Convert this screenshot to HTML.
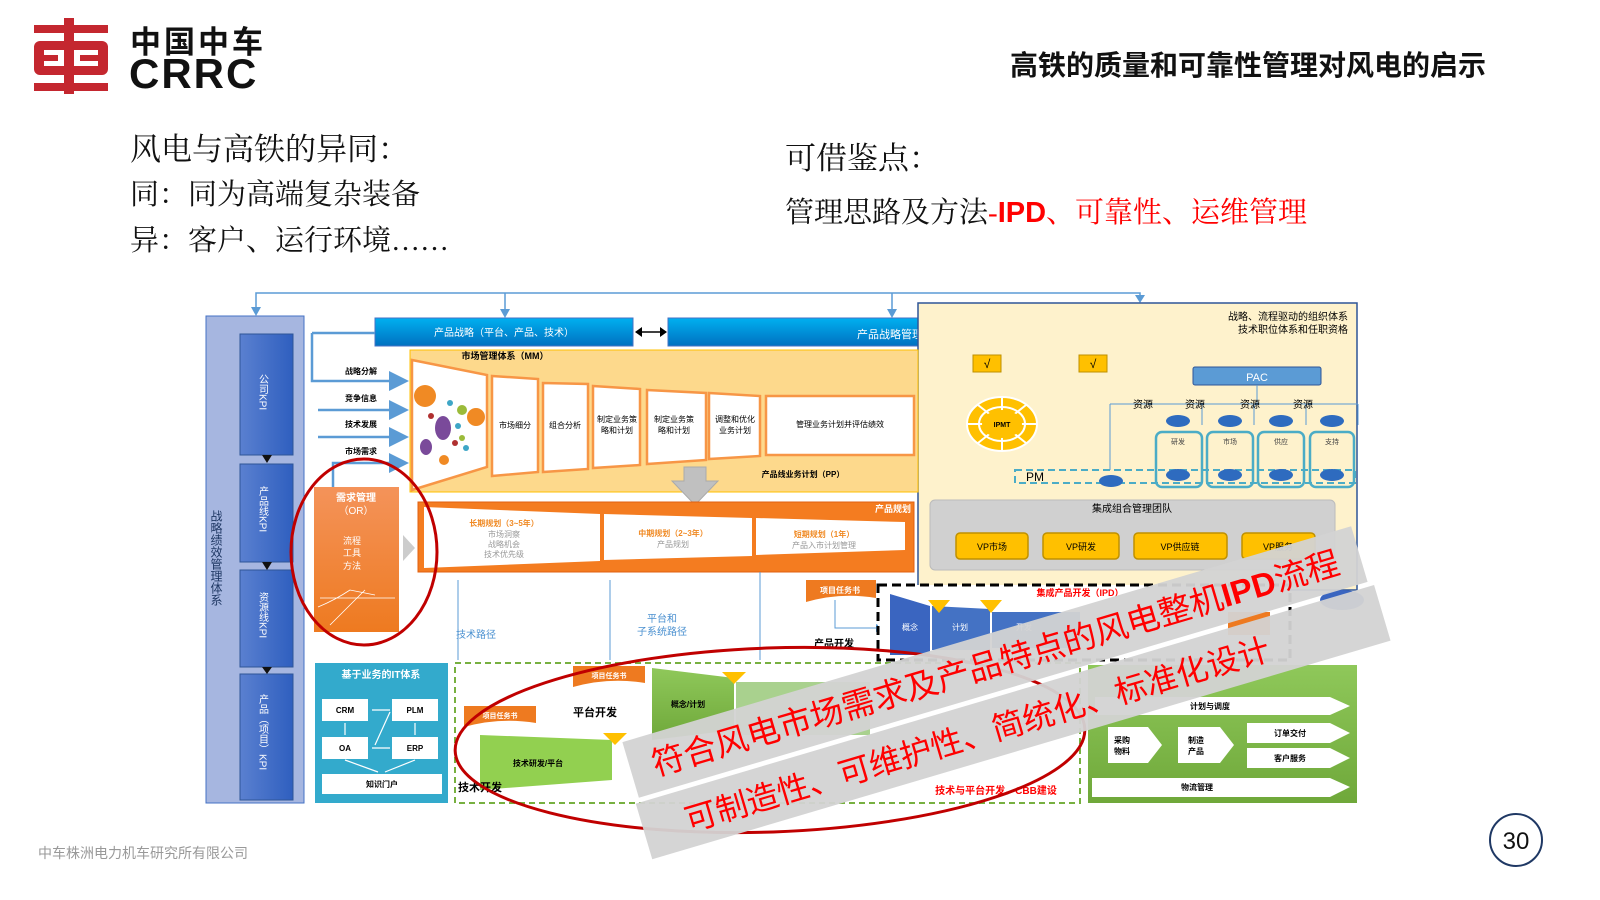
<!DOCTYPE html>
<html><head><meta charset="utf-8"><style>
body{margin:0;width:1600px;height:900px;background:#fff;position:relative;overflow:hidden;font-family:"Liberation Sans","Noto Sans CJK SC",sans-serif}
.t{position:absolute;white-space:nowrap}
.serif{font-family:"Liberation Serif","Noto Serif CJK SC",serif}
</style></head><body>
<!-- logo -->
<svg class="t" style="left:30px;top:15px" width="85" height="82" viewBox="0 0 85 82">
<g fill="#c4272f">
<rect x="34" y="3" width="10" height="76"/>
<rect x="4" y="10" width="74" height="8"/>
<rect x="4" y="68" width="74" height="8"/>
<rect x="4" y="26" width="74" height="34" rx="6"/>
</g>
<rect x="14" y="35" width="54" height="16" fill="#fff"/>
<rect x="34" y="35" width="10" height="16" fill="#c4272f"/>
<rect x="14" y="40" width="14" height="6" fill="#c4272f"/>
<rect x="50" y="40" width="18" height="6" fill="#c4272f"/>
</svg>
<div class="t" style="left:130px;top:17px;font-size:31px;font-weight:bold;letter-spacing:3px;color:#111;font-family:'Noto Sans CJK SC',sans-serif">中国中车</div>
<div class="t" style="left:129px;top:50px;font-size:42px;font-weight:bold;color:#111;letter-spacing:2px">CRRC</div>
<div class="t" style="left:1010px;top:44px;font-size:28px;font-weight:bold;color:#111;font-family:'Noto Sans CJK SC',sans-serif">高铁的质量和可靠性管理对风电的启示</div>

<div class="t serif" style="left:130px;top:124px;font-size:31px;color:#111">风电与高铁的异同：</div>
<div class="t serif" style="left:130px;top:172px;font-size:29px;color:#111">同：同为高端复杂装备</div>
<div class="t serif" style="left:130px;top:218px;font-size:29px;color:#111">异：客户、运行环境……</div>
<div class="t serif" style="left:785px;top:133px;font-size:31px;color:#111">可借鉴点：</div>
<div class="t serif" style="left:785px;top:190px;font-size:29px;color:#111">管理思路及方法<span style="color:#f00">-<b style="font-family:'Liberation Sans',sans-serif">IPD</b>、可靠性、运维管理</span></div>

<svg class="t" style="left:0;top:0" width="1600" height="900" font-family="'Liberation Sans','Noto Sans CJK SC',sans-serif">
<defs>
<linearGradient id="bl" x1="0" y1="0" x2="0" y2="1"><stop offset="0" stop-color="#00b0f0"/><stop offset="1" stop-color="#0070c0"/></linearGradient>
<linearGradient id="kb" x1="0" y1="0" x2="1" y2="0"><stop offset="0" stop-color="#5a80d0"/><stop offset="1" stop-color="#2f5fbf"/></linearGradient>
<linearGradient id="or" x1="0" y1="0" x2="0" y2="1"><stop offset="0" stop-color="#f4935a"/><stop offset="1" stop-color="#ee7a20"/></linearGradient>
<linearGradient id="gr" x1="0" y1="0" x2="0" y2="1"><stop offset="0" stop-color="#8fc85a"/><stop offset="1" stop-color="#6fa83a"/></linearGradient>
<marker id="ar" markerWidth="8" markerHeight="8" refX="6" refY="4" orient="auto"><path d="M0,0 L8,4 L0,8z" fill="#5b9bd5"/></marker>
</defs>
<path d="M256,313 V293 H1140 V300 M505,293 V314 M892,293 V314" stroke="#5b9bd5" stroke-width="1.5" fill="none"/>
<g fill="#5b9bd5"><path d="M251,307 h10 l-5,9z"/><path d="M500,309 h10 l-5,9z"/><path d="M887,309 h10 l-5,9z"/><path d="M1135,295 h10 l-5,8z"/></g>
<rect x="206" y="316" width="98" height="487" fill="#a6b6e0" stroke="#4472c4"/>
<text x="216" y="510" font-size="12" fill="#1f3864" writing-mode="tb">战略绩效管理体系</text>
<rect x="240" y="334" width="53" height="121" fill="url(#kb)" stroke="#2f5597"/>
<rect x="240" y="464" width="53" height="98" fill="url(#kb)" stroke="#2f5597"/>
<rect x="240" y="570" width="53" height="97" fill="url(#kb)" stroke="#2f5597"/>
<rect x="240" y="674" width="53" height="126" fill="url(#kb)" stroke="#2f5597"/>
<g fill="#111"><path d="M262,455 h10 l-5,8z"/><path d="M262,562 h10 l-5,8z"/><path d="M262,667 h10 l-5,7z"/></g>
<g fill="#fff" font-size="10"><text x="262" y="374" writing-mode="tb">公司KPI</text><text x="262" y="486" writing-mode="tb">产品线KPI</text><text x="262" y="592" writing-mode="tb">资源线KPI</text><text x="262" y="694" writing-mode="tb">产品（项目）KPI</text></g>
<rect x="375" y="318" width="258" height="28" fill="url(#bl)" stroke="#4472c4"/>
<text x="504" y="336" font-size="10" fill="#fff" text-anchor="middle">产品战略（平台、产品、技术）</text>
<path d="M641,332 H660" stroke="#000" stroke-width="1.5"/><path d="M635,332 l7,-5 v10z M667,332 l-7,-5 v10z" fill="#000"/>
<rect x="668" y="318" width="445" height="28" fill="url(#bl)" stroke="#4472c4"/>
<text x="890" y="338" font-size="11" fill="#fff" text-anchor="middle">产品战略管理</text>
<rect x="918" y="303" width="439" height="287" fill="#fef2cc" stroke="#2f5597" stroke-width="1.5"/>
<text x="1348" y="320" font-size="10" text-anchor="end">战略、流程驱动的组织体系</text>
<text x="1348" y="333" font-size="10" text-anchor="end">技术职位体系和任职资格</text>
<rect x="973" y="355" width="28" height="17" fill="#ffc000" stroke="#bf9000"/><text x="987" y="368" font-size="12" text-anchor="middle">√</text>
<rect x="1079" y="355" width="28" height="17" fill="#ffc000" stroke="#bf9000"/><text x="1093" y="368" font-size="12" text-anchor="middle">√</text>
<ellipse cx="1002" cy="424" rx="35" ry="27" fill="#ffc000" stroke="#fff" stroke-width="2"/>
<ellipse cx="1002" cy="424" rx="23" ry="17" fill="#ffc000" stroke="#fff" stroke-width="2"/>
<path d="M1002,397 V451 M967,424 H1037 M978,405 L1026,443 M1026,405 L978,443" stroke="#fff" stroke-width="2"/>
<ellipse cx="1002" cy="424" rx="20" ry="14" fill="#ffc000"/>
<text x="1002" y="427" font-size="7" text-anchor="middle" font-weight="bold">IPMT</text>
<rect x="1193" y="367" width="128" height="18" rx="2" fill="#5b9bd5" stroke="#2f5597"/>
<text x="1257" y="381" font-size="11" fill="#fff" text-anchor="middle">PAC</text>
<path d="M1257,385 V404 M1110,404 H1358 M1110,404 V470 M1202,404 V425 M1254,404 V425 M1306,404 V425 M1358,404 V425" stroke="#5b9bd5" fill="none"/>
<g font-size="10"><text x="1133" y="408">资源</text><text x="1185" y="408">资源</text><text x="1240" y="408">资源</text><text x="1293" y="408">资源</text></g>
<rect x="1015" y="470" width="340" height="13" fill="none" stroke="#4bacc6" stroke-width="2" stroke-dasharray="7,4"/>
<text x="1026" y="481" font-size="12">PM</text>
<ellipse cx="1111" cy="481" rx="12" ry="6" fill="#2e6bbf"/>
<g stroke="#4bacc6" stroke-width="2.5" fill="none"><rect x="1156" y="432" width="46" height="55" rx="6"/><rect x="1207" y="432" width="46" height="55" rx="6"/><rect x="1258" y="432" width="46" height="55" rx="6"/><rect x="1310" y="432" width="44" height="55" rx="6"/></g>
<g fill="#2e6bbf"><ellipse cx="1178" cy="421" rx="12" ry="6"/><ellipse cx="1230" cy="421" rx="12" ry="6"/><ellipse cx="1281" cy="421" rx="12" ry="6"/><ellipse cx="1332" cy="421" rx="12" ry="6"/>
<ellipse cx="1178" cy="475" rx="12" ry="6"/><ellipse cx="1230" cy="475" rx="12" ry="6"/><ellipse cx="1281" cy="475" rx="12" ry="6"/><ellipse cx="1332" cy="475" rx="12" ry="6"/></g>
<g font-size="7" fill="#444" text-anchor="middle"><text x="1178" y="444">研发</text><text x="1230" y="444">市场</text><text x="1281" y="444">供应</text><text x="1332" y="444">支持</text></g>
<rect x="930" y="500" width="405" height="70" rx="5" fill="#d0d0d0" stroke="#bbb"/>
<text x="1132" y="512" font-size="10" text-anchor="middle">集成组合管理团队</text>
<g fill="#ffc000" stroke="#bf9000" stroke-width="1.5"><rect x="956" y="533" width="72" height="26" rx="4"/><rect x="1043" y="533" width="76" height="26" rx="4"/><rect x="1134" y="533" width="93" height="26" rx="4"/><rect x="1242" y="533" width="73" height="26" rx="4"/></g>
<g font-size="9" text-anchor="middle"><text x="992" y="550">VP市场</text><text x="1081" y="550">VP研发</text><text x="1180" y="550">VP供应链</text><text x="1278" y="550">VP服务</text></g>
<rect x="410" y="350" width="508" height="142" fill="#fdd98c" stroke="#ffc000"/>
<text x="505" y="359" font-size="9" font-weight="bold" text-anchor="middle">市场管理体系（MM）</text>
<g fill="#fff" stroke="#f79646" stroke-width="2.5">
<path d="M412,360 L487,375 V467 L412,490z"/>
<path d="M492,376 L538,379 V472 L492,476z"/>
<path d="M543,383 L588,384 V469 L543,472z"/>
<path d="M593,386 L640,389 V465 L593,468z"/>
<path d="M647,390 L706,393 V460 L647,464z"/>
<path d="M709,393 L760,396 V456 L709,459z"/>
<rect x="766" y="396" width="148" height="59"/>
</g>
<g fill="#f08a24"><circle cx="425" cy="396" r="11"/><circle cx="476" cy="417" r="9"/><circle cx="444" cy="460" r="5"/></g>
<g fill="#7a4a9a"><ellipse cx="443" cy="428" rx="8" ry="12"/><ellipse cx="426" cy="447" rx="6" ry="8"/></g>
<g fill="#9bbb3a"><circle cx="462" cy="410" r="5"/><circle cx="462" cy="438" r="3"/></g>
<g fill="#3ea6c6"><circle cx="450" cy="403" r="3"/><circle cx="458" cy="426" r="3"/><circle cx="466" cy="448" r="3"/></g>
<g fill="#b03030"><circle cx="431" cy="416" r="3"/><circle cx="455" cy="443" r="3"/></g>
<g font-size="8" text-anchor="middle"><text x="515" y="428">市场细分</text><text x="565" y="428">组合分析</text><text x="617" y="422">制定业务策</text><text x="617" y="433">略和计划</text><text x="674" y="422">制定业务策</text><text x="674" y="433">略和计划</text><text x="735" y="422">调整和优化</text><text x="735" y="433">业务计划</text><text x="840" y="427">管理业务计划并评估绩效</text>
<text x="803" y="477" font-weight="bold">产品线业务计划（PP）</text></g>
<g font-size="8" font-weight="bold" text-anchor="middle"><text x="361" y="374">战略分解</text><text x="361" y="401">竞争信息</text><text x="361" y="427">技术发展</text><text x="361" y="454">市场需求</text></g>
<g stroke="#5b9bd5" stroke-width="2.5" fill="none" marker-end="url(#ar)"><path d="M312,333 H375 M312,333 V381 H404"/><path d="M318,410 H404"/><path d="M318,437 H404"/><path d="M333,487 V463 H404"/></g>
<path d="M684,467 h22 v14 h12 l-23,24 l-23,-24 h12z" fill="#c0c0c0" stroke="#aaa"/>
<rect x="418" y="502" width="496" height="70" fill="#f47c20" stroke="#e06010"/>
<text x="911" y="512" font-size="9" fill="#fff" font-weight="bold" text-anchor="end">产品规划</text>
<g fill="#fff"><path d="M424,507 L600,514 V561 L424,568z"/><path d="M604,514 L752,518 V556 L604,560z"/><path d="M756,518 L905,522 V550 L756,555z"/></g>
<g font-size="8" text-anchor="middle"><text x="504" y="526" fill="#f08a24" font-weight="bold">长期规划（3~5年）</text><text x="504" y="537" fill="#999">市场洞察</text><text x="504" y="547" fill="#999">战略机会</text><text x="504" y="557" fill="#999">技术优先级</text>
<text x="673" y="536" fill="#f08a24" font-weight="bold">中期规划（2~3年）</text><text x="673" y="547" fill="#999">产品规划</text>
<text x="824" y="537" fill="#f08a24" font-weight="bold">短期规划（1年）</text><text x="824" y="548" fill="#999">产品入市计划管理</text></g>
<path d="M403,535 l12,13 l-12,13z" fill="#ccc"/>
<rect x="314" y="487" width="85" height="145" fill="url(#or)"/>
<g fill="#fff" font-size="10" text-anchor="middle"><text x="356" y="501" font-weight="bold">需求管理</text><text x="356" y="514">（OR）</text><text x="352" y="544" font-size="9">流程</text><text x="352" y="556" font-size="9">工具</text><text x="352" y="569" font-size="9">方法</text></g>
<path d="M318,607 Q335,600 350,590 L375,595 M330,625 L365,590 M320,598 H395" stroke="#fff" stroke-width="0.8" fill="none"/>
<path d="M610,580 V660 M760,572 V660 M458,580 V660" stroke="#5b9bd5" fill="none"/>
<text x="476" y="638" font-size="10" fill="#4a90d0" text-anchor="middle">技术路径</text>
<text x="662" y="622" font-size="10" fill="#4a90d0" text-anchor="middle">平台和</text>
<text x="662" y="635" font-size="10" fill="#4a90d0" text-anchor="middle">子系统路径</text>
<text x="834" y="647" font-size="10" font-weight="bold" text-anchor="middle">产品开发</text>
<path d="M806,580 h70 v18 q-35,-6 -70,4z" fill="#ee7a20"/><text x="840" y="593" font-size="8" fill="#fff" text-anchor="middle" font-weight="bold">项目任务书</text>
<path d="M835,600 V628 H882" stroke="#5b9bd5" fill="none" marker-end="url(#ar)"/>
<rect x="878" y="585" width="412" height="75" fill="#fff" stroke="#000" stroke-width="3" stroke-dasharray="9,5"/>
<text x="1080" y="596" font-size="9" fill="#f00" font-weight="bold" text-anchor="middle">集成产品开发（IPD）</text>
<path d="M890,594 L930,606 V655 H890z" fill="#3a65c0"/><path d="M932,606 L990,609 V650 H932z" fill="#4472c4"/><path d="M992,612 H1080 V648 H992z" fill="#4472c4"/>
<path d="M1228,612 H1270 V635 H1228z" fill="#ee7a20"/>
<path d="M928,600 h22 l-11,13z M980,600 h22 l-11,13z" fill="#ffc000"/>
<g fill="#fff" font-size="8" text-anchor="middle"><text x="910" y="630">概念</text><text x="960" y="630">计划</text><text x="1024" y="630">开发</text></g>
<ellipse cx="1342" cy="600" rx="22" ry="10" fill="#3a65c0"/>
<rect x="315" y="663" width="133" height="140" fill="#33aacc"/>
<text x="381" y="678" font-size="10" fill="#fff" font-weight="bold" text-anchor="middle">基于业务的IT体系</text>
<g fill="#fff"><rect x="322" y="699" width="46" height="22"/><rect x="392" y="699" width="46" height="22"/><rect x="322" y="737" width="46" height="22"/><rect x="392" y="737" width="46" height="22"/><rect x="322" y="774" width="120" height="20"/></g>
<g font-size="8" font-weight="bold" text-anchor="middle"><text x="345" y="713">CRM</text><text x="415" y="713">PLM</text><text x="345" y="751">OA</text><text x="415" y="751">ERP</text><text x="382" y="787">知识门户</text></g>
<path d="M372,710 H390 M372,748 H390 M345,723 V735 M415,723 V735 M390,712 L375,745 M345,760 L378,772 M415,760 L385,772" stroke="#fff" stroke-width="1.2"/>
<rect x="455" y="663" width="625" height="140" fill="#fff" stroke="#77b040" stroke-width="2" stroke-dasharray="6,4"/>
<path d="M480,735 L612,740 V780 L480,790z" fill="#92d050"/>
<path d="M652,668 L734,678 V730 L652,740z" fill="url(#gr)"/>
<path d="M736,682 H870 V735 H736z" fill="#a9d18e"/>
<path d="M603,733 h24 l-12,12z M722,672 h24 l-12,12z" fill="#ffc000"/>
<text x="538" y="766" font-size="8" font-weight="bold" text-anchor="middle">技术研发/平台</text>
<text x="688" y="707" font-size="8" font-weight="bold" text-anchor="middle">概念/计划</text>
<text x="595" y="716" font-size="11" font-weight="bold" text-anchor="middle">平台开发</text>
<text x="480" y="791" font-size="11" font-weight="bold" text-anchor="middle">技术开发</text>
<path d="M464,706 h72 v17 q-36,-6 -72,4z" fill="#ee7a20"/><text x="500" y="718" font-size="7" fill="#fff" text-anchor="middle" font-weight="bold">项目任务书</text>
<path d="M573,666 h72 v17 q-36,-6 -72,4z" fill="#ee7a20"/><text x="609" y="678" font-size="7" fill="#fff" text-anchor="middle" font-weight="bold">项目任务书</text>
<text x="996" y="794" font-size="10" fill="#f00" font-weight="bold" text-anchor="middle">技术与平台开发、CBB建设</text>
<rect x="1088" y="665" width="269" height="138" fill="url(#gr)"/>
<g fill="#fff"><path d="M1095,697 H1330 L1350,706 L1330,715 H1095z"/><path d="M1108,727 H1148 L1162,745 L1148,763 H1108z"/><path d="M1178,727 H1220 L1234,745 L1220,763 H1178z"/><path d="M1247,723 H1330 L1350,733 L1330,743 H1247z"/><path d="M1247,748 H1330 L1350,758 L1330,768 H1247z"/><path d="M1092,778 H1330 L1350,787 L1330,797 H1092z"/></g>
<g font-size="8" font-weight="bold" text-anchor="middle"><text x="1210" y="709">计划与调度</text><text x="1122" y="743">采购</text><text x="1122" y="754">物料</text><text x="1196" y="743">制造</text><text x="1196" y="754">产品</text><text x="1290" y="736">订单交付</text><text x="1290" y="761">客户服务</text><text x="1197" y="790">物流管理</text></g>
<ellipse cx="364" cy="552" rx="73" ry="93" fill="none" stroke="#c00000" stroke-width="3"/>
<ellipse cx="770" cy="740" rx="315" ry="92" transform="rotate(-2 770 740)" fill="none" stroke="#c00000" stroke-width="3"/>
<g transform="rotate(-16.5 995 662)"><rect x="615" y="633" width="760" height="58" fill="#d3d3d3" opacity="0.95"/><text x="995" y="675" font-size="33" fill="#f00" text-anchor="middle">符合风电市场需求及产品特点的风电整机<tspan font-weight="bold">IPD</tspan>流程</text></g>
<g transform="rotate(-16.5 1010 722)"><rect x="628" y="694" width="770" height="58" fill="#d3d3d3" opacity="0.95"/><text x="975" y="736" font-size="32" fill="#f00" text-anchor="middle">可制造性、可维护性、简统化、标准化设计</text></g>
<circle cx="1516" cy="840" r="26" fill="#fff" stroke="#1f3864" stroke-width="2"/>
<text x="1516" y="849" font-size="24" text-anchor="middle" fill="#111">30</text>
<text x="38" y="858" font-size="14" fill="#999">中车株洲电力机车研究所有限公司</text>
</svg>
</body></html>
